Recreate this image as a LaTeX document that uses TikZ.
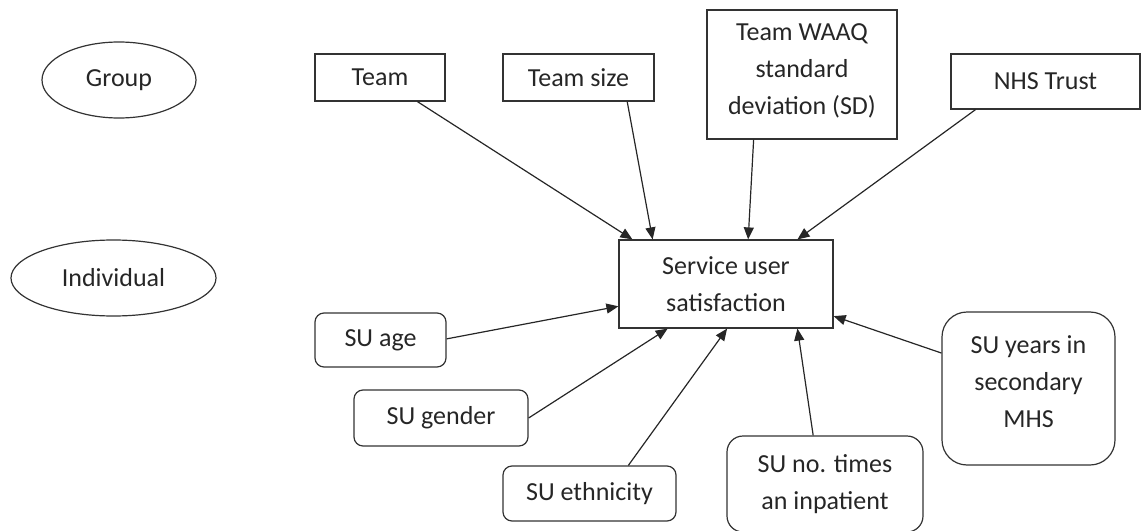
\documentclass[tikz,border=0pt]{standalone}
\usepackage{fontspec}
\setmainfont{Carlito}
\usetikzlibrary{shapes.geometric,arrows.meta,calc}
\begin{document}
\begin{tikzpicture}[x=0.75pt,y=-0.75pt,
  every node/.style={font=\fontsize{19.5}{27.75}\selectfont, text=black!85, inner sep=0pt, align=center},
  sz/.style 2 args={minimum width=#1*0.75pt, minimum height=#2*0.75pt},
  level/.style={draw=black!80, line width=0.9pt, ellipse},
  factor/.style={draw=black!80, line width=0.9pt, rectangle},
  subj/.style={draw=black!80, line width=0.9pt, rectangle, rounded corners=#1*0.75pt},
  link/.style={draw=black!85, line width=0.9pt, -{Triangle[length=9pt,width=7.5pt]}}
]
\useasboundingbox (0,0) rectangle (1141,531);
\begin{scope}
\clip (0,0) rectangle (1141,531);

% levels
\node[level, sz={154}{76}] (group) at (119,80) {Group};
\node[level, sz={205}{76}] (indiv) at (113.5,278) {Individual};

% group-level predictors
\node[factor, sz={130}{47}] (team) at (380,77.5) {Team};
\node[factor, sz={151}{47}] (tsize) at (578.5,77.5) {Team size};
\node[factor, sz={190}{129}, text depth=8pt] (waaq) at (802,74.5) {Team WAAQ\\standard\\deviation (SD)};
\node[factor, sz={189}{55}] (nhs) at (1045.5,81.5) {NHS Trust};

% outcome
\node[factor, sz={214}{88}] (sus) at (726,284) {Service user\\satisfaction};

% individual-level predictors
\node[subj=9, sz={131}{54}] (age) at (380.5,340) {SU age};
\node[subj=9, sz={174}{56}] (gender) at (441,418) {SU gender};
\node[subj=9, sz={173}{55}] (eth) at (589.5,493.5) {SU ethnicity};
\node[subj=16, sz={196}{96}] (inpat) at (825,484) {SU no. times\\an inpatient};
\node[subj=25, sz={173}{153}, text depth=10pt] (years) at (1028.5,388.5) {SU years in\\secondary\\MHS};

% effects on satisfaction
\draw[link] ($(team.south west)!0.785!(team.south east)$) -- ($(sus.north west)!0.065!(sus.north east)$);
\draw[link] ($(tsize.south west)!0.82!(tsize.south east)$) -- ($(sus.north west)!0.159!(sus.north east)$);
\draw[link] ($(waaq.south west)!0.247!(waaq.south east)$) -- ($(sus.north west)!0.603!(sus.north east)$);
\draw[link] ($(nhs.south west)!0.132!(nhs.south east)$) -- ($(sus.north west)!0.832!(sus.north east)$);
\draw[link] ($(age.north east)!0.48!(age.south east)$) -- ($(sus.north west)!0.75!(sus.south west)$);
\draw[link] (gender.east) -- ($(sus.south west)!0.229!(sus.south east)$);
\draw[link] ($(eth.north west)!0.723!(eth.north east)$) -- ($(sus.south west)!0.505!(sus.south east)$);
\draw[link] ($(inpat.north west)!0.44!(inpat.north east)$) -- ($(sus.south west)!0.832!(sus.south east)$);
\draw[link] ($(years.north west)!0.27!(years.south west)$) -- ($(sus.north east)!0.86!(sus.south east)$);
\end{scope}
\end{tikzpicture}
\end{document}
